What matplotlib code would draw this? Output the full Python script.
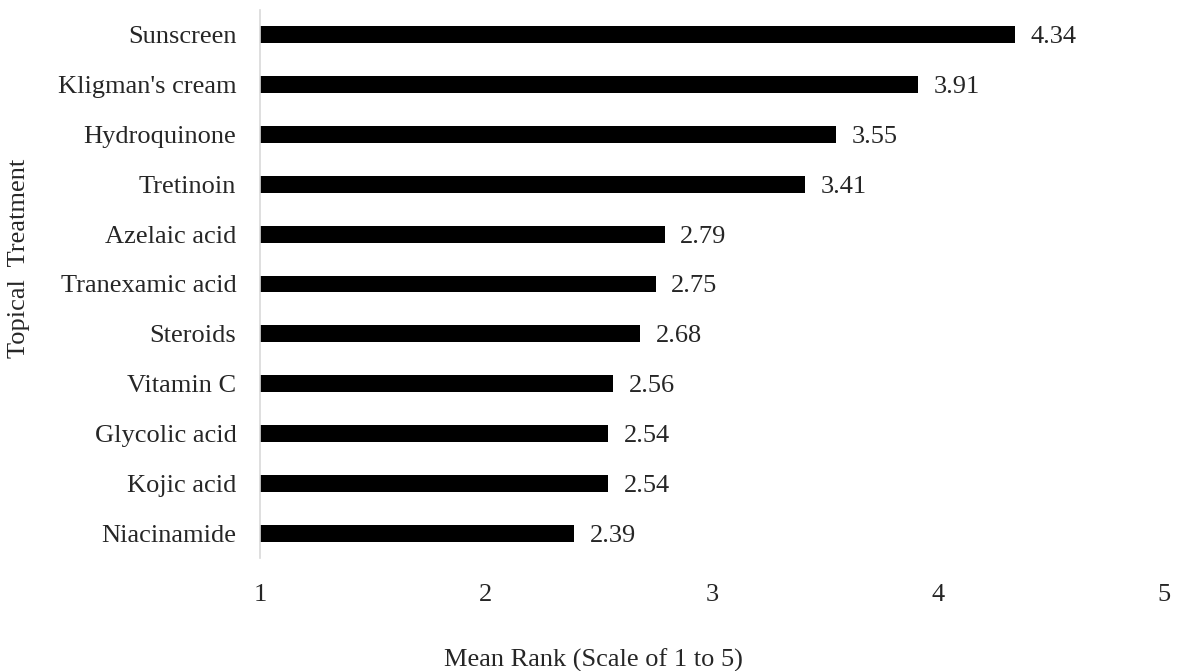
import matplotlib
matplotlib.use("Agg")
import matplotlib.pyplot as plt

categories = ["Sunscreen", "Kligman's cream", "Hydroquinone", "Tretinoin", "Azelaic acid",
              "Tranexamic acid", "Steroids", "Vitamin C", "Glycolic acid", "Kojic acid", "Niacinamide"]
values = [4.34, 3.91, 3.55, 3.41, 2.79, 2.75, 2.68, 2.56, 2.54, 2.54, 2.39]
xticks = [1, 2, 3, 4, 5]

plt.rcParams['font.family'] = ['Liberation Serif', 'DejaVu Serif']
FS = 19
TC = '#262626'

fig = plt.figure(figsize=(11.8, 6.71), dpi=100)
ax = fig.add_axes([260/1180, 1 - 558/671, (1164-260)/1180, (558-10)/671])

ypos = list(range(len(categories)))[::-1]
base = 1
ax.barh(ypos, [v - base for v in values], left=base, height=0.34, color='black')
for y, v in zip(ypos, values):
    ax.text(v + 0.07, y, f"{v:.2f}", va='center_baseline', ha='left', fontsize=FS, color=TC)

ax.set_xlim(1, 5)
ax.set_ylim(-0.5, len(categories) - 0.5)
ax.set_yticks(ypos)
ax.set_yticklabels(categories, fontsize=FS, color=TC)
ax.set_xticks(xticks)
ax.set_xticklabels([str(t) for t in xticks], fontsize=FS, color=TC)
ax.tick_params(axis='both', length=0)
ax.tick_params(axis='x', pad=19)
ax.tick_params(axis='y', pad=17)
for s in ['top', 'right', 'bottom']:
    ax.spines[s].set_visible(False)
ax.spines['left'].set_color('#d9d9d9')
ax.spines['left'].set_linewidth(1.2)

fig.text(593/1180, 4/671, "Mean Rank (Scale of 1 to 5)", ha='center', va='baseline', fontsize=FS, color=TC)
fig.text(19/1180, 1 - 258/671, "Topical  Treatment", ha='center', va='center', rotation=90, fontsize=FS, color=TC)

fig.savefig("out.png", dpi=100)
